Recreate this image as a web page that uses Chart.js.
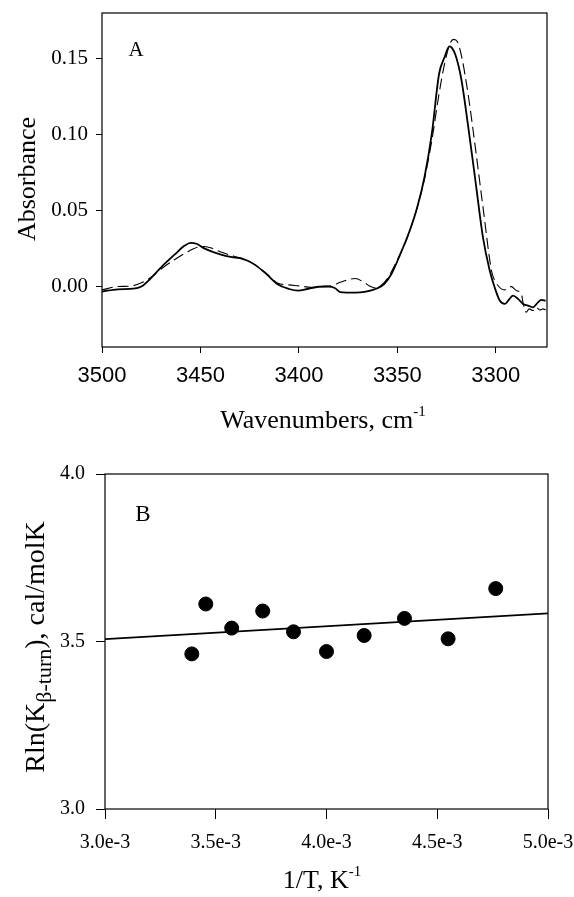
<!DOCTYPE html>
<html><head><meta charset="utf-8">
<script src="https://cdn.jsdelivr.net/npm/chart.js@4.4.1/dist/chart.umd.min.js"></script>
<style>
html,body{margin:0;padding:0;background:#fff;width:574px;height:897px;overflow:hidden}
canvas{position:absolute;left:0}
#a{top:0}
#b{top:450px}
</style></head>
<body>
<canvas id="a" width="574" height="450"></canvas>
<canvas id="b" width="574" height="447"></canvas>
<script>
// ---------- Panel A data ----------
const wnSolid = [3500,3492,3484,3480,3475.6,3470,3463,3458,3455,3452,3447.8,3440,3434,3430,3426,3421.7,3416.2,3410.6,3405,3400.4,3395.7,3390,3385,3381.8,3379,3371.5,3366,3360.4,3356.7,3353,3349.2,3343.7,3339.9,3336.2,3332.5,3328.8,3326,3323.6,3322.3,3320.4,3317.6,3314,3310.2,3306.5,3303.1,3300.6,3298,3295.5,3293,3291.3,3288.7,3286.2,3283.7,3281.1,3278.6,3276.9,3274.7];
const absSolid = [-0.0035,-0.002,-0.0016,-0.0002,0.0048,0.0125,0.021,0.0268,0.0286,0.028,0.0248,0.021,0.0192,0.0185,0.0168,0.0136,0.0077,0.0011,-0.0018,-0.0029,-0.0018,-0.0003,-0.0002,-0.0011,-0.0038,-0.0042,-0.0035,-0.0015,0.0015,0.0081,0.019,0.0367,0.052,0.072,0.1005,0.14,0.151,0.158,0.157,0.152,0.137,0.105,0.068,0.032,0.0104,-0.0007,-0.0094,-0.0116,-0.0083,-0.0061,-0.0083,-0.0116,-0.0127,-0.0139,-0.0106,-0.009,-0.0094];
const wnDashed = [3500,3492,3485,3479.4,3475.6,3470,3462.6,3457,3451.5,3448,3444,3440,3433,3428,3421.7,3416.2,3410.6,3405,3399.4,3393.9,3388.3,3383.6,3379,3374.3,3371.5,3366.9,3364.1,3361.3,3358.5,3354.8,3350.2,3345.5,3339.9,3336.2,3332.5,3328.8,3326,3323.2,3321.4,3319.5,3317.3,3313.9,3310.2,3306.5,3302.2,3300.6,3298.9,3297.2,3295.5,3293.8,3292.1,3289.6,3287,3286.2,3284.5,3283.1,3281.1,3279.4,3277.7,3276,3274.7];
const absDashed = [-0.0024,-0.0002,0.0002,0.0026,0.0055,0.0114,0.018,0.0224,0.0257,0.0262,0.025,0.0228,0.0198,0.018,0.0136,0.0081,0.002,0.0009,0.0002,-0.0007,0,0.0004,0.0026,0.0046,0.0051,0.0026,0.0002,-0.0011,0.0002,0.0055,0.0169,0.0301,0.052,0.0708,0.096,0.127,0.1467,0.16,0.1626,0.161,0.151,0.125,0.0895,0.052,0.0104,0.0038,0.0005,-0.0017,-0.0024,-0.0007,-0.0002,-0.0028,-0.005,-0.0106,-0.0171,-0.0149,-0.016,-0.0139,-0.0156,-0.0149,-0.0156];
const wnTicks = [3500,3450,3400,3350,3300];
const absTicks = [0,0.05,0.10,0.15];
const absTickLabels = ['0.00','0.05','0.10','0.15'];

// ---------- Panel B data ----------
const invT = [3.392e-3,3.455e-3,3.572e-3,3.712e-3,3.851e-3,4.000e-3,4.170e-3,4.352e-3,4.549e-3,4.764e-3];
const rlnK = [3.463,3.612,3.540,3.591,3.529,3.470,3.518,3.569,3.508,3.658];
const fitX = [3.0e-3,5.0e-3];
const fitY = [3.507,3.584];
const invTTicks = [3.0e-3,3.5e-3,4.0e-3,4.5e-3,5.0e-3];
const invTTickLabels = ['3.0e-3','3.5e-3','4.0e-3','4.5e-3','5.0e-3'];
const rlnTicks = [3.0,3.5,4.0];
const rlnTickLabels = ['3.0','3.5','4.0'];

const SERIF = '"Liberation Serif", "Times New Roman", serif';
const SANS = '"Liberation Sans", Arial, sans-serif';

function drawRich(ctx, segs, x, y, rot){
  ctx.save();
  ctx.translate(x,y);
  if(rot) ctx.rotate(rot);
  ctx.fillStyle='#000'; ctx.textBaseline='alphabetic'; ctx.textAlign='left';
  let total=0;
  segs.forEach(s=>{ctx.font=s.size+'px '+SERIF; s.w=ctx.measureText(s.text).width; total+=s.w;});
  let cx=-total/2;
  segs.forEach(s=>{ctx.font=s.size+'px '+SERIF; ctx.fillText(s.text,cx,s.dy||0); cx+=s.w;});
  ctx.restore();
}
function makeDecor(items){
  return {id:'decor', afterDraw(chart){
    const ctx=chart.ctx, a=chart.chartArea;
    ctx.save();
    ctx.strokeStyle='#000'; ctx.lineWidth=1.2;
    ctx.strokeRect(a.left,a.top,a.right-a.left,a.bottom-a.top);
    ctx.restore();
    items.forEach(it=>drawRich(ctx,it.segs,it.x,it.y,it.rot));
  }};
}
const pts=(xs,ys)=>xs.map((x,i)=>({x:x,y:ys[i]}));
const gridCfg=(tl)=>({display:true,drawOnChartArea:false,drawTicks:true,tickLength:tl,color:'#000',lineWidth:1});
const fixX=(h)=>(s)=>{s.height=h;s.paddingLeft=0;s.paddingRight=0;};
const fixY=(w)=>(s)=>{s.width=w;s.paddingTop=0;s.paddingBottom=0;};

// ---------- Chart A ----------
new Chart(document.getElementById('a'),{
  type:'line',
  data:{datasets:[
    {data:pts(wnSolid,absSolid),borderColor:'#000',borderWidth:1.8,pointRadius:0,cubicInterpolationMode:'monotone',fill:false},
    {data:pts(wnDashed,absDashed),borderColor:'#000',borderWidth:1.1,borderDash:[11,5],pointRadius:0,cubicInterpolationMode:'monotone',fill:false}
  ]},
  options:{
    responsive:false,animation:false,devicePixelRatio:1,
    layout:{padding:{left:0,top:13,right:27,bottom:0}},
    plugins:{legend:{display:false},tooltip:{enabled:false}},
    scales:{
      x:{type:'linear',reverse:true,min:3274,max:3500,
        afterBuildTicks:s=>{s.ticks=wnTicks.map(v=>({value:v}));},
        afterFit:fixX(103),
        ticks:{callback:v=>String(v),font:{family:SANS,size:22},color:'#000',padding:10,maxRotation:0,autoSkip:false},
        grid:gridCfg(6),border:{display:false}},
      y:{type:'linear',min:-0.04,max:0.18,
        afterBuildTicks:s=>{s.ticks=absTicks.map(v=>({value:v}));},
        afterFit:fixY(102),
        ticks:{callback:(v,i)=>absTickLabels[i],font:{family:SERIF,size:21},color:'#000',padding:8,autoSkip:false},
        grid:gridCfg(6),border:{display:false}}
    }
  },
  plugins:[makeDecor([
    {segs:[{text:'A',size:21}],x:136,y:56},
    {segs:[{text:'Absorbance',size:26}],x:35,y:179,rot:-Math.PI/2},
    {segs:[{text:'Wavenumbers, cm',size:26},{text:'-1',size:15,dy:-12}],x:323,y:428}
  ])]
});

// ---------- Chart B ----------
new Chart(document.getElementById('b'),{
  type:'scatter',
  data:{datasets:[
    {type:'line',data:pts(fitX,fitY),borderColor:'#000',borderWidth:1.6,pointRadius:0,fill:false},
    {data:pts(invT,rlnK),backgroundColor:'#000',borderColor:'#000',pointRadius:7,pointHoverRadius:7}
  ]},
  options:{
    responsive:false,animation:false,devicePixelRatio:1,
    layout:{padding:{left:0,top:24,right:26,bottom:0}},
    plugins:{legend:{display:false},tooltip:{enabled:false}},
    scales:{
      x:{type:'linear',min:3.0e-3,max:5.0e-3,
        afterBuildTicks:s=>{s.ticks=invTTicks.map(v=>({value:v}));},
        afterFit:fixX(88),
        ticks:{callback:(v,i)=>invTTickLabels[i],font:{family:SERIF,size:20},color:'#000',padding:12,maxRotation:0,autoSkip:false},
        grid:gridCfg(10),border:{display:false}},
      y:{type:'linear',min:3.0,max:4.0,
        afterBuildTicks:s=>{s.ticks=rlnTicks.map(v=>({value:v}));},
        afterFit:fixY(105),
        ticks:{callback:(v,i)=>rlnTickLabels[i],font:{family:SERIF,size:20},color:'#000',padding:11,autoSkip:false},
        grid:gridCfg(9),border:{display:false}}
    }
  },
  plugins:[makeDecor([
    {segs:[{text:'B',size:23}],x:143,y:71},
    {segs:[{text:'Rln(K',size:28},{text:'β-turn',size:22,dy:7},{text:'), cal/molK',size:28}],x:44,y:197,rot:-Math.PI/2},
    {segs:[{text:'1/T, K',size:26},{text:'-1',size:15,dy:-12}],x:322,y:438}
  ])]
});
</script>
</body></html>
